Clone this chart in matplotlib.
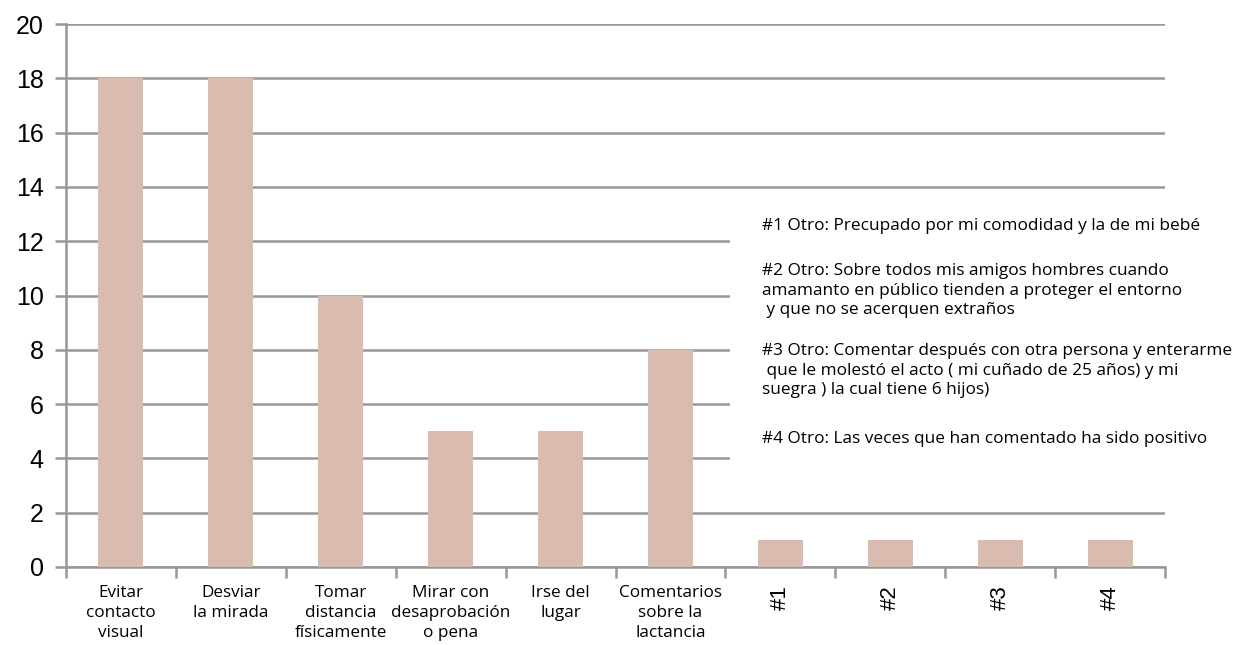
import matplotlib
matplotlib.use("Agg")
import matplotlib.pyplot as plt
from matplotlib.patches import Rectangle

# datos
categorias = ["Evitar\ncontacto\nvisual", "Desviar\nla mirada", "Tomar\ndistancia\nfísicamente",
              "Mirar con\ndesaprobación\no pena", "Irse del\nlugar", "Comentarios\nsobre la\nlactancia",
              "#1", "#2", "#3", "#4"]
valores = [18, 18, 10, 5, 5, 8, 1, 1, 1, 1]
y_ticks = [0, 2, 4, 6, 8, 10, 12, 14, 16, 18, 20]

notas = [
    "#1 Otro: Precupado por mi comodidad y la de mi bebé",
    "#2 Otro: Sobre todos mis amigos hombres cuando\namamanto en público tienden a proteger el entorno\n y que no se acerquen extraños",
    "#3 Otro: Comentar después con otra persona y enterarme\n que le molestó el acto ( mi cuñado de 25 años) y mi\nsuegra ) la cual tiene 6 hijos)",
    "#4 Otro: Las veces que han comentado ha sido positivo",
]

color_barra = "#D9BBAF"
gris = "#989898"

fig = plt.figure(figsize=(12.43, 6.45), dpi=100)
ax = fig.add_axes([66/1243, 78/645, (1165-66)/1243, (567-24)/645])

x = list(range(len(valores)))
ax.bar(x, valores, width=0.41, color=color_barra, zorder=3)

ax.set_xlim(-0.5, len(valores) - 0.5)
ax.set_ylim(0, 20)
ax.set_yticks(y_ticks)
ax.set_yticklabels([str(t) for t in y_ticks], fontsize=18, family="Liberation Sans")
ax.yaxis.grid(True, color=gris, linewidth=1.8, zorder=0)
ax.tick_params(axis="y", length=8, width=1.8, color=gris, pad=8)

# ticks mayores en los bordes de categoria, etiquetas en los centros
ax.set_xticks([i - 0.5 for i in range(len(valores) + 1)])
ax.set_xticklabels([])
ax.tick_params(axis="x", which="major", length=8, width=1.8, color=gris)
ax.set_xticks(x, minor=True)
ax.set_xticklabels(categorias, minor=True, fontsize=12.3, family="Open Sans", linespacing=1.32)
ax.tick_params(axis="x", which="minor", length=0, pad=13)
for lab in ax.get_xticklabels(minor=True):
    if lab.get_text().startswith("#"):
        lab.set_rotation(90)
        lab.set_fontsize(16)
        lab.set_family("Liberation Sans")
        lab.set_linespacing(1.0)

for s in ["top", "right"]:
    ax.spines[s].set_visible(False)
for s in ["left", "bottom"]:
    ax.spines[s].set_color(gris)
    ax.spines[s].set_linewidth(1.8)
ax.set_axisbelow(True)

# cuadro de notas
fig.patches.append(Rectangle((730/1243, 175/645), (1243-730)/1243, 245/645,
                             transform=fig.transFigure, facecolor="white",
                             edgecolor="none", zorder=2))
tops = [218, 263, 343, 431]
for t, y in zip(notas, tops):
    fig.text(762/1243, 1 - y/645, t, fontsize=12.4, family="Open Sans", va="top",
             ha="left", linespacing=1.3, zorder=3)

fig.savefig("out.png", dpi=100)
